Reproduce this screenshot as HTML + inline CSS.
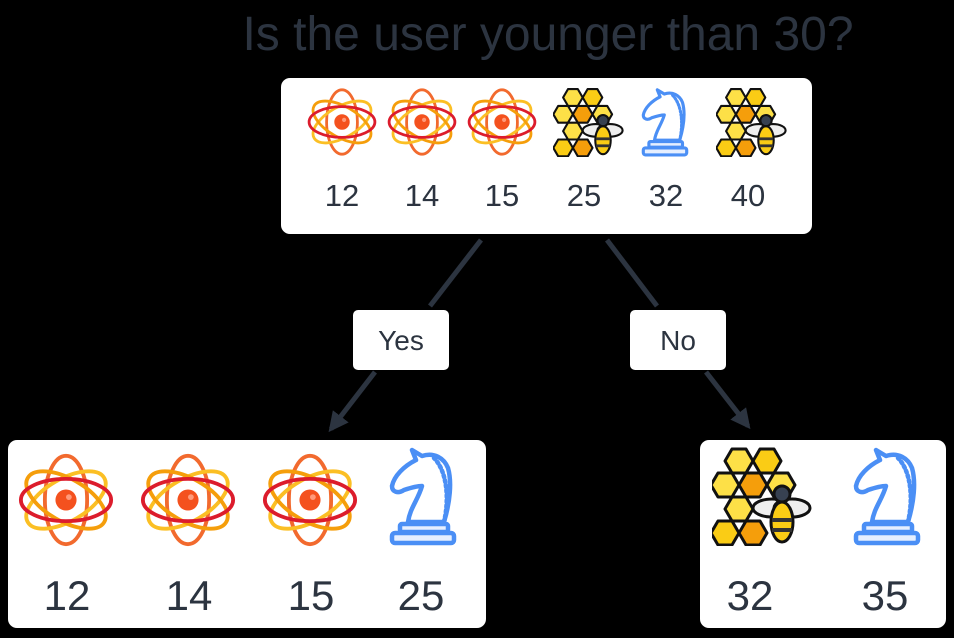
<!DOCTYPE html><html><head><style>
body{margin:0;background:#000;width:954px;height:633px;overflow:hidden;font-family:"Liberation Sans",sans-serif}
</style></head><body>
<svg width="954" height="633" viewBox="0 0 954 633" xmlns="http://www.w3.org/2000/svg">
<defs>
<symbol id="atom" viewBox="0 0 100 100">
<ellipse cx="50" cy="50" rx="22" ry="46" fill="none" stroke="#f26a2e" stroke-width="4"/>
<ellipse cx="50" cy="50" rx="22" ry="46" fill="none" stroke="#fbbf24" stroke-width="4" transform="rotate(60 50 50)"/>
<ellipse cx="50" cy="50" rx="22" ry="46" fill="none" stroke="#f59e0b" stroke-width="4" transform="rotate(-60 50 50)"/>
<ellipse cx="50" cy="50" rx="47" ry="22" fill="none" stroke="#dc1c2c" stroke-width="4"/>
<circle cx="50" cy="50" r="11" fill="#f4511e"/>
<circle cx="53" cy="47" r="3" fill="#ff9a7a"/>
</symbol>
<symbol id="bee" viewBox="0 0 100 100">
<g stroke="#111" stroke-width="3" stroke-linejoin="round">
<polygon points="20,3 34,3 41,15 34,27 20,27 13,15" fill="#fde047"/>
<polygon points="48,3 62,3 69,15 62,27 48,27 41,15" fill="#facc15"/>
<polygon points="6,27 20,27 27,39 20,51 6,51 -1,39" fill="#fde047"/>
<polygon points="34,27 48,27 55,39 48,51 34,51 27,39" fill="#f59e0b"/>
<polygon points="62,27 76,27 83,39 76,51 62,51 55,39" fill="#fde047"/>
<polygon points="20,51 34,51 41,63 34,75 20,75 13,63" fill="#fde047"/>
<polygon points="6,75 20,75 27,87 20,99 6,99 -1,87" fill="#facc15"/>
<polygon points="34,75 48,75 55,87 48,99 34,99 27,87" fill="#f59e0b"/>
<ellipse cx="60" cy="62" rx="19" ry="9" fill="#eee"/>
<ellipse cx="80" cy="62" rx="18" ry="9" fill="#eee"/>
<ellipse cx="70" cy="76" rx="11" ry="20" fill="#facc15"/>
<circle cx="70" cy="48" r="8" fill="#374151"/>
</g>
<rect x="60" y="72" width="20" height="4" fill="#333"/>
<rect x="60" y="82" width="20" height="4" fill="#333"/>
</symbol>
<symbol id="knight" viewBox="0 0 70 100">
<g fill="none" stroke="#4b8ff5" stroke-width="4.5" stroke-linejoin="round" stroke-linecap="round">
<path d="M24 4 L28 14 C16 20 6 30 4 40 C4 46 10 48 16 44 C22 42 28 40 34 40 C30 54 22 62 20 76 L56 76 C62 56 64 36 60 22 C56 12 46 6 34 10 Z" fill="#fff"/>
<path d="M46 12 C58 24 62 50 56 76" stroke-dasharray="2 3"/>
<rect x="12" y="78" width="48" height="8" rx="2" fill="#e6efff"/>
<rect x="4" y="87" width="62" height="10" rx="3" fill="#e6efff"/>
</g>
</symbol>
<marker id="ah" viewBox="0 0 10 10" refX="8" refY="5" markerWidth="4" markerHeight="4" orient="auto"><path d="M0 0 L10 5 L0 10 z" fill="#2c3440"/></marker>
</defs>
<text x="548" y="50" text-anchor="middle" font-size="48" fill="#2c3440" font-family="Liberation Sans">Is the user younger than 30?</text>
<rect x="281" y="78" width="531" height="156" rx="9" fill="#fff"/>
<use href="#atom" x="306" y="87" width="72" height="70"/>
<use href="#atom" x="386" y="87" width="72" height="70"/>
<use href="#atom" x="466" y="87" width="72" height="70"/>
<use href="#bee" x="553" y="87" width="72" height="70"/>
<use href="#knight" x="640" y="87" width="50" height="70"/>
<use href="#bee" x="716" y="87" width="72" height="70"/>
<g font-size="31" fill="#2c3440" text-anchor="middle">
<text x="342" y="206">12</text><text x="422" y="206">14</text><text x="502" y="206">15</text>
<text x="584" y="206">25</text><text x="666" y="206">32</text><text x="748" y="206">40</text></g>
<g stroke="#2c3440" stroke-width="5" fill="none">
<line x1="481" y1="240" x2="430" y2="306"/>
<line x1="375" y1="372" x2="331" y2="429" marker-end="url(#ah)"/>
<line x1="607" y1="240" x2="657" y2="306"/>
<line x1="706" y1="372" x2="748" y2="426" marker-end="url(#ah)"/>
</g>
<rect x="353" y="310" width="96" height="60" rx="5" fill="#fff"/>
<rect x="630" y="310" width="96" height="60" rx="5" fill="#fff"/>
<text x="401" y="350" text-anchor="middle" font-size="28" fill="#2c3440">Yes</text>
<text x="678" y="350" text-anchor="middle" font-size="28" fill="#2c3440">No</text>
<rect x="8" y="440" width="478" height="188" rx="9" fill="#fff"/>
<use href="#atom" x="16" y="452" width="100" height="96"/>
<use href="#atom" x="138" y="452" width="100" height="96"/>
<use href="#atom" x="260" y="452" width="100" height="96"/>
<use href="#knight" x="388" y="446" width="70" height="100"/>
<g font-size="42" fill="#2c3440" text-anchor="middle">
<text x="67" y="610">12</text><text x="189" y="610">14</text><text x="311" y="610">15</text><text x="421" y="610">25</text>
</g>
<rect x="700" y="440" width="246" height="188" rx="9" fill="#fff"/>
<use href="#bee" x="712" y="446" width="100" height="100"/>
<use href="#knight" x="852" y="446" width="70" height="100"/>
<g font-size="42" fill="#2c3440" text-anchor="middle">
<text x="750" y="610">32</text><text x="885" y="610">35</text>
</g>
</svg>
</body></html>
